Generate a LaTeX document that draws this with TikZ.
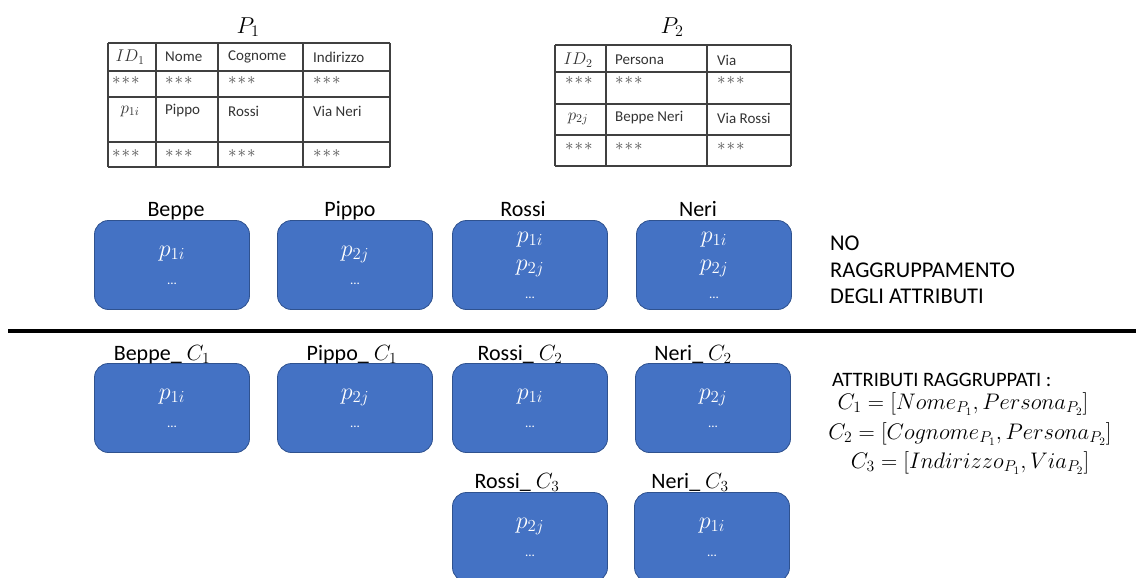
\RequirePackage{fix-cm}
\documentclass[tikz,border=0pt]{standalone}
\usepackage{fontspec}
\setmainfont{Carlito}
\usetikzlibrary{positioning}
\definecolor{boxblue}{HTML}{4472C4}
\definecolor{boxedge}{HTML}{2F528F}
\tikzset{
  blob/.style={draw=boxedge, line width=.8pt, fill=boxblue, rounded corners=14pt,
    minimum width=155pt, minimum height=89pt, inner sep=0pt,
    text=white, align=center, font=\fontsize{24}{28}\selectfont},
  lbl/.style={anchor=base, inner sep=0pt, font=\fontsize{22}{25}\selectfont},
  cell/.style={anchor=west, inner sep=0pt, text=black!80, font=\fontsize{15}{17}\selectfont},
  stars/.style={cell, text=black!70, font=\fontsize{17}{17}\selectfont},
  grid/.style={draw=black!75, line width=1.3pt},
  side/.style={inner sep=0pt, font=\fontsize{20.5}{24}\selectfont},
}
\newcommand{\etc}{\mbox{\fontsize{13}{13}\selectfont ...}}
\newcommand{\starz}{$\ast\!\ast\!\ast$}
\begin{document}
\begin{tikzpicture}[x=1pt,y=-1pt]
\useasboundingbox (0,0) rectangle (1136,578);
% tabella P1
\node[inner sep=0pt, font=\fontsize{23}{26}\selectfont] (tabA) at (248,27) {$P_1$};
\foreach \x in {108,156,218,303,390}
\draw[grid] (\x,43) -- (\x,167);
\foreach \y in {43,71,97,142,167}
\draw[grid] (108,\y) -- (390,\y);
\node[cell, anchor=center, font=\fontsize{17}{18}\selectfont] (tabA-id) at (130,57) {$ID_1$};
\node[cell, anchor=center, font=\fontsize{17}{18}\selectfont] (tabA-p) at (130,111) {$p_{1i}$};
\foreach \x/\t [count=\i] in {165/Nome,228/Cognome,313/Indirizzo}
\node[cell] (tabA-h\i) at (\x,57) {\t};
\foreach \x/\t [count=\i] in {165/Pippo,228/Rossi,313/Via Neri}
\node[cell] (tabA-r\i) at (\x,111) {\t};
\foreach \x [count=\i] in {112,165,228,313} {
\node[stars] (tabA-s\i) at (\x,81) {\starz};
\node[stars] (tabA-t\i) at (\x,154) {\starz};
}
% tabella P2
\node[inner sep=0pt, font=\fontsize{23}{26}\selectfont] (tabB) at (672,27) {$P_2$};
\foreach \x in {555,606,707,791}
\draw[grid] (\x,45) -- (\x,166);
\foreach \y in {45,72,104,135,166}
\draw[grid] (555,\y) -- (791,\y);
\node[cell, anchor=center, font=\fontsize{17}{18}\selectfont] (tabB-id) at (578,60) {$ID_2$};
\node[cell, anchor=center, font=\fontsize{17}{18}\selectfont] (tabB-p) at (578,119) {$p_{2j}$};
\node[cell] (tabB-h1) at (615,60) {Persona};
\node[cell] (tabB-h2) at (717,60) {Via};
\node[cell] (tabB-r1) at (615,118) {Beppe Neri};
\node[cell] (tabB-r2) at (717,118) {Via Rossi};
\foreach \x [count=\i] in {565,615,717} {
\node[stars] (tabB-s\i) at (\x,81) {\starz};
\node[stars] (tabB-t\i) at (\x,147) {\starz};
}
% senza raggruppamento
\node[blob] (beppe) at (172,265) {$p_{1i}$\\\etc};
\node[blob] (pippo) at (355,265) {$p_{2j}$\\\etc};
\node[blob] (rossi) at (530,265) {$p_{1i}$\\$p_{2j}$\\\etc};
\node[blob] (neri) at (714,265) {$p_{1i}$\\$p_{2j}$\\\etc};
\node[lbl] (beppe-l) at (176,216) {Beppe};
\node[lbl] (pippo-l) at (350,216) {Pippo};
\node[lbl] (rossi-l) at (523,216) {Rossi};
\node[lbl] (neri-l) at (698,216) {Neri};
\node[anchor=north west, align=left, inner sep=0pt, font=\fontsize{22.5}{26.5}\selectfont]
  (nogroup) at (830,236) {NO\\RAGGRUPPAMENTO\\DEGLI ATTRIBUTI};
\draw[line width=4pt] (8,331) -- (1136,331);
% con raggruppamento
\node[blob] (beppeA) at (172,408) {$p_{1i}$\\\etc};
\node[blob] (pippoA) at (355,408) {$p_{2j}$\\\etc};
\node[blob] (rossiB) at (530,408) {$p_{1i}$\\\etc};
\node[blob] (neriB) at (713,408) {$p_{2j}$\\\etc};
\node[blob] (rossiC) at (530,537) {$p_{2j}$\\\etc};
\node[blob] (neriC) at (712,537) {$p_{1i}$\\\etc};
\node[lbl] (beppeA-l) at (162,360) {Beppe\_ $C_1$};
\node[lbl] (pippoA-l) at (352,360) {Pippo\_ $C_1$};
\node[lbl] (rossiB-l) at (520,360) {Rossi\_ $C_2$};
\node[lbl] (neriB-l) at (693,360) {Neri\_ $C_2$};
\node[lbl] (rossiC-l) at (517,488) {Rossi\_ $C_3$};
\node[lbl] (neriC-l) at (690,488) {Neri\_ $C_3$};
\node[side, anchor=west] (group) at (832,380) {ATTRIBUTI RAGGRUPPATI :};
\node[side, font=\fontsize{22.5}{24}\selectfont] (c1) at (963,404) {$C_1=\left[Nome_{P_1},Persona_{P_2}\right]$};
\node[side, font=\fontsize{22.5}{24}\selectfont] (c2) at (970,434) {$C_2=\left[Cognome_{P_1},Persona_{P_2}\right]$};
\node[side, font=\fontsize{22.5}{24}\selectfont] (c3) at (970,463) {$C_3=\left[Indirizzo_{P_1},Via_{P_2}\right]$};
\end{tikzpicture}
\end{document}
